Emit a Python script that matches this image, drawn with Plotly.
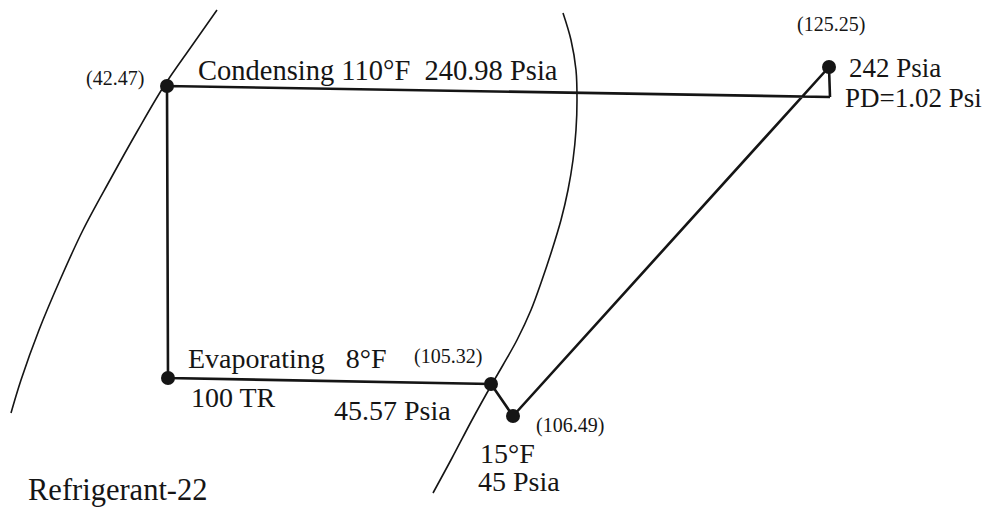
import plotly.graph_objects as go

# Diagram coordinates (horizontal: enthalpy-like position, vertical: pressure-like position, top = 0)
liq_x = [217, 191, 164, 138, 110, 83, 60, 39, 21, 11]
liq_y = [10, 47, 86, 130, 180, 230, 280, 330, 380, 413]

vap_x = [563, 571, 576, 577, 576, 573, 568, 561, 552, 542, 531, 517, 503, 492, 472, 452, 433]
vap_y = [13, 40, 70, 100, 130, 160, 190, 220, 250, 280, 310, 340, 365, 384, 420, 458, 493]

# cycle state points
cyc_x = [830, 167, 168, 491, 513, 829, 830]
cyc_y = [97, 86, 378, 384, 416, 67, 97]

pts_x = [167, 168, 491, 513, 829]
pts_y = [86, 378, 384, 416, 67]
pts_lbl = ["(42.47)", "", "(105.32)", "(106.49)", "(125.25)"]

INK = "#151515"
SERIF = "Liberation Serif, Times New Roman, serif"

fig = go.Figure()
fig.add_trace(go.Scatter(x=liq_x, y=liq_y, mode="lines", line=dict(color=INK, width=1.6, shape="spline", smoothing=1), hoverinfo="skip"))
fig.add_trace(go.Scatter(x=vap_x, y=vap_y, mode="lines", line=dict(color=INK, width=1.6, shape="spline", smoothing=1), hoverinfo="skip"))
fig.add_trace(go.Scatter(x=cyc_x, y=cyc_y, mode="lines", line=dict(color=INK, width=2.6), hoverinfo="skip"))
fig.add_trace(go.Scatter(x=pts_x, y=pts_y, mode="markers", marker=dict(color=INK, size=14), hoverinfo="skip"))

def ann(text, x, y, size, xanchor="left"):
    fig.add_annotation(x=x, y=y, text=text, showarrow=False, xanchor=xanchor, yanchor="middle",
                       font=dict(family=SERIF, size=size, color=INK))

ann(pts_lbl[0], 146, 78, 20, "right")
ann(pts_lbl[2], 448, 356, 20, "center")
ann(pts_lbl[3], 534, 425, 20, "left")
ann(pts_lbl[4], 831, 24, 20, "center")

ann("Condensing 110°F  240.98 Psia", 196, 70, 28.5)
ann("242 Psia", 847, 68, 27)
ann("PD=1.02 Psi", 843, 98, 27)
ann("Evaporating   8°F", 186, 358, 28)
ann("100 TR", 189, 397, 28)
ann("45.57 Psia", 332, 410, 28)
ann("15°F", 478, 453, 28)
ann("45 Psia", 476, 481, 28)
ann("Refrigerant-22", 26, 490, 30.5)

fig.update_layout(
    width=995, height=508,
    margin=dict(l=0, r=0, t=0, b=0),
    paper_bgcolor="white", plot_bgcolor="white",
    showlegend=False,
    xaxis=dict(range=[0, 995], visible=False, fixedrange=True),
    yaxis=dict(range=[508, 0], visible=False, fixedrange=True),
)
fig.write_html("out.html", config={"displayModeBar": False},
               post_script="document.body.style.margin='0px';document.body.style.overflow='hidden';")
